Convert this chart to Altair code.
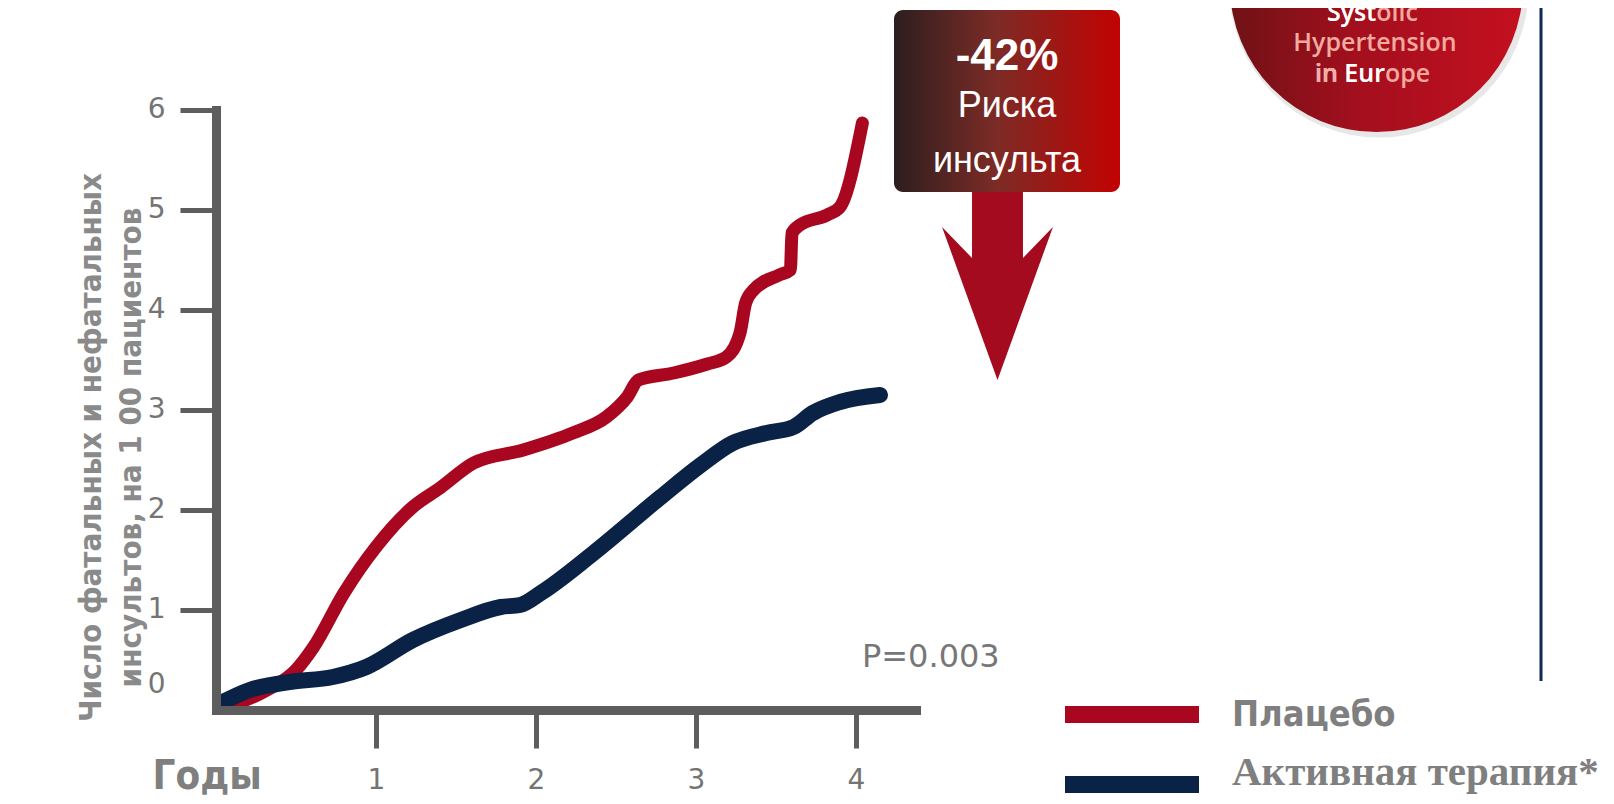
import altair as alt
import pandas as pd

# ---- data ----
years_placebo = [0.05, 0.32, 0.50, 0.61, 0.80, 1.00, 1.23, 1.40, 1.61, 1.92, 2.23, 2.44, 2.57, 2.64,
                 2.86, 3.07, 3.19, 3.275, 3.31, 3.36, 3.52, 3.59, 3.60, 3.65, 3.82, 3.90, 4.04]
rate_placebo = [0.02, 0.20, 0.40, 0.63, 1.17, 1.63, 2.03, 2.22, 2.47, 2.60, 2.77, 2.93, 3.13, 3.30,
                3.37, 3.46, 3.53, 3.77, 4.07, 4.20, 4.35, 4.40, 4.77, 4.85, 4.95, 5.03, 5.87]

years_active = [0.03, 0.21, 0.46, 0.73, 0.94, 1.23, 1.53, 1.78, 1.90, 2.03, 2.36, 2.78, 3.03,
                3.23, 3.44, 3.61, 3.73, 3.90, 4.15]
rate_active = [0.07, 0.20, 0.28, 0.33, 0.43, 0.70, 0.90, 1.03, 1.05, 1.17, 1.57, 2.13, 2.45,
               2.67, 2.77, 2.83, 2.97, 3.08, 3.15]

series_names = ["Плацебо", "Активная терапия*"]
series_colors = ["#a8071f", "#0b2247"]
x_tick_values = [1, 2, 3, 4]
y_tick_values = [0, 1, 2, 3, 4, 5, 6]

x_title = "Годы"
y_title = ["Число фатальных и нефатальных", "инсультов, на 1 00 пациентов"]
p_value_text = "P=0.003"
box_lines = ["-42%", "Риска", "инсульта"]
badge_lines = ["Systolic", "Syst", "Hypertension", "in Europe", "in Eur", "in"]

COND = "Liberation Sans Narrow, DejaVu Sans Condensed, Roboto Condensed, Arial Narrow, sans-serif"
SERIF = "Liberation Serif, DejaVu Serif, serif"
SANS = "DejaVu Sans, sans-serif"
ARIAL = "Liberation Sans, Arial, sans-serif"
OPEN = "Open Sans, Lato, sans-serif"
GRAY_AX = "#5d5d5d"

df = pd.concat([
    pd.DataFrame({"t": years_placebo, "v": rate_placebo, "group": series_names[0]}),
    pd.DataFrame({"t": years_active, "v": rate_active, "group": series_names[1]}),
], ignore_index=True)

one = pd.DataFrame({"k": [0]})

x_enc = alt.X("t:Q", scale=alt.Scale(domain=[0, 4.375], nice=False, zero=False),
              axis=alt.Axis(values=x_tick_values, format="d", title=x_title,
                            titleX=-64, titleY=78, titleAlign="left", titleBaseline="alphabetic",
                            titleFont=COND, titleFontSize=40, titleFontWeight="bold",
                            titleColor="#7f7f7f",
                            labelFont=SANS, labelFontSize=28, labelColor="#747474",
                            labelPadding=18, tickSize=38, tickWidth=5, tickColor=GRAY_AX,
                            domainColor=GRAY_AX, domainWidth=9, domainCap="square",
                            grid=False, zindex=1, labelFlush=False))
y_enc = alt.Y("v:Q", scale=alt.Scale(domain=[0, 6], nice=False),
              axis=alt.Axis(values=y_tick_values, title=y_title, titleAngle=270,
                            titleX=-125, titleY=337, titleAlign="center", titleBaseline="middle",
                            titleLineHeight=40, titleFont=COND, titleFontSize=31,
                            titleFontWeight="bold", titleColor="#8a8a8a",
                            labelOffset={"condition": {"test": "datum.value == 0", "value": -26},
                                         "value": -1},
                            labelFont=SANS, labelFontSize=28, labelColor="#747474",
                            labelPadding=15, tickSize=36, tickWidth=5, tickColor=GRAY_AX,
                            tickOpacity={"condition": {"test": "datum.value == 0", "value": 0}, "value": 1},
                            domainColor=GRAY_AX, domainWidth=9, domainCap="square",
                            grid=False, zindex=1))

color_enc = alt.Color("group:N",
    scale=alt.Scale(domain=series_names, range=series_colors),
    legend=alt.Legend(orient="none", legendX=840.5, legendY=584.5, title=None,
                      direction="vertical", symbolType="stroke", symbolSize=134 * 134,
                      symbolStrokeWidth=17, clipHeight=40, rowPadding=17, labelOffset=24.5,
                      padding=0, labelLimit=0, labelColor="#7f7f7f", labelFontWeight="bold",
                      labelFont=alt.ExprRef(expr=f"datum.index == 0 ? '{COND}' : '{SERIF}'"),
                      labelFontSize=alt.ExprRef(expr="datum.index == 0 ? 36 : 41"),
                      labelBaseline=alt.ExprRef(expr="datum.index == 0 ? 'middle' : 'alphabetic'")))

base = alt.Chart(df)
red_line = base.transform_filter(alt.datum.group == series_names[0]).mark_line(
    interpolate="monotone", strokeWidth=13, strokeCap="round", strokeJoin="round"
).encode(x=x_enc, y=y_enc, color=color_enc)
blue_line = base.transform_filter(alt.datum.group == series_names[1]).mark_line(
    interpolate="monotone", strokeWidth=16, strokeCap="round", strokeJoin="round"
).encode(x=x_enc, y=y_enc, color=color_enc)

# ---- annotations ----
p_text = alt.Chart(one).mark_text(text=p_value_text, align="left", baseline="alphabetic",
                                  font=SANS, fontSize=32, color="#777777").encode(
    x=alt.value(646), y=alt.value(557))

arrow_path = ("M-0.271,-1.05L0.271,-1.05L0.271,-0.298L0.59,-0.628L0,1L-0.59,-0.628"
              "L-0.271,-0.298Z")
arrow = alt.Chart(one).mark_point(shape=arrow_path, filled=True, color="#a50b1e",
                                  opacity=1, size=188 * 188, strokeWidth=0).encode(
    x=alt.value(781.5), y=alt.value(176))

box_grad = alt.LinearGradient(gradient="linear", x1=0, x2=1, y1=0, y2=0, stops=[
    alt.GradientStop(color="#2c1e1e", offset=0),
    alt.GradientStop(color="#7c2b26", offset=0.45),
    alt.GradientStop(color="#c20202", offset=1)])
box = alt.Chart(one).mark_rect(color=box_grad, cornerRadius=9).encode(
    x=alt.value(678), x2=alt.value(904), y=alt.value(-100), y2=alt.value(82))
box_t1 = alt.Chart(one).mark_text(text=box_lines[0], font=ARIAL, fontSize=44, fontWeight="bold",
                                  color="white", align="center", baseline="alphabetic").encode(
    x=alt.value(791), y=alt.value(-40))
box_t2 = alt.Chart(one).mark_text(text=box_lines[1], font=ARIAL, fontSize=36,
                                  color="white", align="center", baseline="alphabetic").encode(
    x=alt.value(791), y=alt.value(7))
box_t3 = alt.Chart(one).mark_text(text=box_lines[2], font=ARIAL, fontSize=36,
                                  color="white", align="center", baseline="alphabetic").encode(
    x=alt.value(791), y=alt.value(62))

badge_grad = alt.LinearGradient(gradient="linear", x1=0, x2=1, y1=0, y2=0, stops=[
    alt.GradientStop(color="#6f1216", offset=0),
    alt.GradientStop(color="#a50f1e", offset=0.45),
    alt.GradientStop(color="#c4101f", offset=1)])
badge_shadow = alt.Chart(one).mark_point(shape="circle", filled=True, color="#cfcfcf",
                                         opacity=0.5, size=299 * 299, strokeWidth=0).encode(
    x=alt.value(1163), y=alt.value(-122))
badge = alt.Chart(one).mark_point(shape="circle", filled=True, color=badge_grad,
                                  opacity=1, size=293 * 293, strokeWidth=0).encode(
    x=alt.value(1160.5), y=alt.value(-124.5))
PINK = "#f2aaa0"
def btext(txt, x, y, col, align="left"):
    return alt.Chart(one).mark_text(text=txt, font=OPEN, fontSize=25, fontWeight=600,
                                    color=col, align=align, baseline="alphabetic").encode(
        x=alt.value(x), y=alt.value(y))
badge_texts = [
    btext(badge_lines[0], 1111, -89, PINK),
    btext(badge_lines[1], 1111, -89, "white"),
    btext(badge_lines[2], 1159, -59, PINK, "center"),
    btext(badge_lines[3], 1099, -28, PINK),
    btext(badge_lines[4], 1099, -28, "white"),
    btext(badge_lines[5], 1099, -28, PINK),
]

vline = alt.Chart(one).mark_rule(color="#0c2a52", strokeWidth=3).encode(
    x=alt.value(1325), y=alt.value(-110), y2=alt.value(571))

chart = alt.layer(
    red_line, blue_line, p_text, arrow, box, box_t1, box_t2, box_t3,
    badge_shadow, badge, *badge_texts, vline
).properties(
    width=700, height=600,
    padding={"left": 208, "top": 102, "right": 690, "bottom": 86},
    autosize=alt.AutoSizeParams(type="none"),
    background="white",
).configure_view(stroke=None)

chart.save("out.html", embed_options={"renderer": "svg", "actions": False})
